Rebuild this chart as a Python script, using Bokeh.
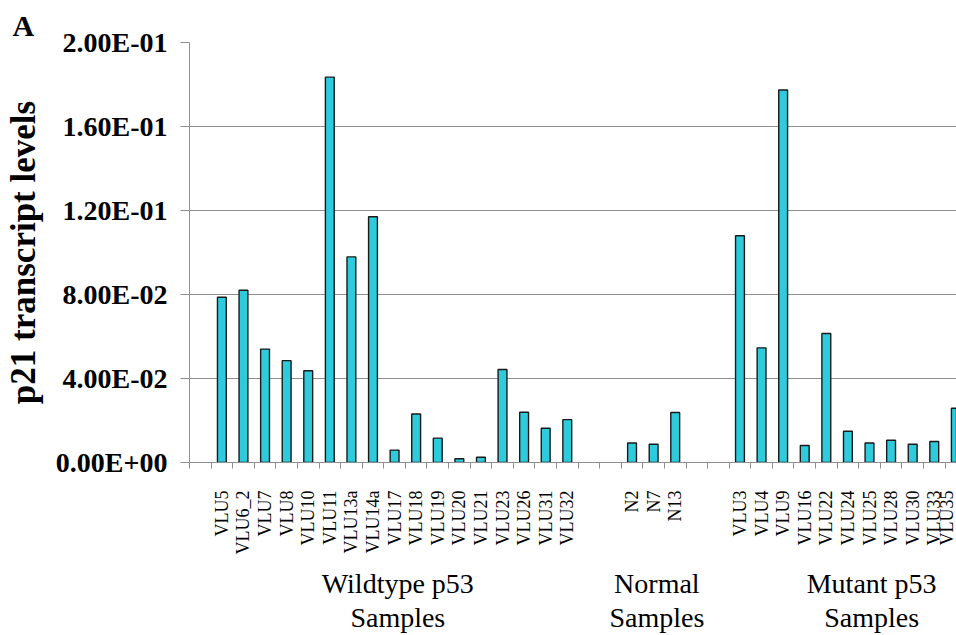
import math
from bokeh.plotting import figure
from bokeh.models import FixedTicker, Range1d, ColumnDataSource, LinearAxis, Title
from bokeh.embed import file_html
from bokeh.resources import INLINE

# p21 transcript levels per sample, grouped by p53 status
wildtype_samples = ["VLU5", "VLU6_2", "VLU7", "VLU8", "VLU10", "VLU11", "VLU13a", "VLU14a",
                    "VLU17", "VLU18", "VLU19", "VLU20", "VLU21", "VLU23", "VLU26", "VLU31", "VLU32"]
wildtype_levels = [0.0787, 0.0820, 0.0540, 0.0485, 0.0437, 0.1835, 0.0979, 0.1170,
                   0.0059, 0.0231, 0.0116, 0.0018, 0.0025, 0.0443, 0.0239, 0.0163, 0.0204]

normal_samples = ["N2", "N7", "N13"]
normal_levels = [0.0093, 0.0087, 0.0238]

mutant_samples = ["VLU3", "VLU4", "VLU9", "VLU16", "VLU22", "VLU24", "VLU25", "VLU28",
                  "VLU30", "VLU33", "VLU35"]
mutant_levels = [0.1080, 0.0546, 0.1774, 0.0081, 0.0614, 0.0149, 0.0093, 0.0106,
                 0.0087, 0.0100, 0.0258]

group_titles = ["Wildtype p53\nSamples", "Normal\nSamples", "Mutant p53\nSamples"]

y_ticks = [0.0, 0.04, 0.08, 0.12, 0.16, 0.2]
y_tick_labels = ["0.00E+00", "4.00E-02", "8.00E-02", "1.20E-01", "1.60E-01", "2.00E-01"]

# lay the groups out on one category axis: one empty slot first, two between groups
names, levels, slots = [], [], []
pos = 1
for grp_names, grp_levels in [(wildtype_samples, wildtype_levels),
                              (normal_samples, normal_levels),
                              (mutant_samples, mutant_levels)]:
    for n, v in zip(grp_names, grp_levels):
        names.append(n)
        levels.append(v)
        slots.append(pos)
        pos += 1
    pos += 2

src = ColumnDataSource(dict(x=slots, top=levels, name=names))

SERIF = "Liberation Serif"
GRID = "#8f8f8f"

p = figure(width=956, height=635, output_backend="svg", toolbar_location=None,
           x_range=Range1d(-0.5, 35.03), y_range=Range1d(0, 0.2),
           min_border_left=189, min_border_right=0, min_border_top=42,
           min_border_bottom=172)
p.outline_line_color = None
p.background_fill_color = "white"
p.border_fill_color = "white"

# panel letter
p.title = Title(text="A", align="left", offset=-177, standoff=2,
                text_font=SERIF, text_font_style="bold", text_font_size="30px",
                text_color="black")

p.vbar(x="x", top="top", width=0.41, source=src, fill_color="#2ECBDC",
       line_color="#1a1a1a", line_width=1.4)

# y axis
p.yaxis.ticker = FixedTicker(ticks=y_ticks)
p.yaxis.major_label_overrides = dict(zip(y_ticks, y_tick_labels))
p.yaxis.major_label_text_font = SERIF
p.yaxis.major_label_text_font_style = "bold"
p.yaxis.major_label_text_font_size = "28px"
p.yaxis.major_label_text_color = "black"
p.yaxis.major_label_standoff = 13
p.yaxis.major_tick_out = 9
p.yaxis.major_tick_in = 0
p.yaxis.minor_tick_line_color = None
p.yaxis.axis_line_color = GRID
p.yaxis.major_tick_line_color = GRID
p.yaxis.axis_label = "p21 transcript levels"
p.yaxis.axis_label_text_font = SERIF
p.yaxis.axis_label_text_font_style = "bold"
p.yaxis.axis_label_text_font_size = "35px"
p.yaxis.axis_label_text_color = "black"
p.yaxis.axis_label_standoff = 10

p.ygrid.ticker = FixedTicker(ticks=y_ticks)
p.ygrid.grid_line_color = GRID
p.ygrid.grid_line_width = 1
p.xgrid.grid_line_color = None

# x axis: labels at bar centres, tick marks between categories
p.xaxis.ticker = FixedTicker(ticks=slots, minor_ticks=[i - 0.5 for i in range(0, 38)])
p.xaxis.major_label_overrides = {s: n for s, n in zip(slots, names)}
p.xaxis.major_label_orientation = math.pi / 2
p.xaxis.major_label_text_font = SERIF
p.xaxis.major_label_text_font_size = "18px"
p.xaxis.major_label_text_color = "black"
p.xaxis.major_tick_line_color = None
p.xaxis.major_tick_out = 0
p.xaxis.major_tick_in = 0
p.xaxis.major_label_standoff = 22
p.xaxis.minor_tick_out = 6
p.xaxis.minor_tick_in = 0
p.xaxis.minor_tick_line_color = GRID
p.xaxis.axis_line_color = GRID

# group captions under the sample names
group_x = [9.15, 21.15, 31.1]
group_axis = LinearAxis(ticker=FixedTicker(ticks=group_x),
                        major_label_overrides=dict(zip(group_x, group_titles)),
                        axis_line_color=None, major_tick_line_color=None,
                        minor_tick_line_color=None, major_tick_out=0, major_tick_in=0,
                        major_label_standoff=10, major_label_text_font=SERIF,
                        major_label_text_font_size="28px",
                        major_label_text_color="black",
                        major_label_text_line_height=1.1)
p.add_layout(group_axis, "below")

open("out.html", "w").write(file_html(p, INLINE))
